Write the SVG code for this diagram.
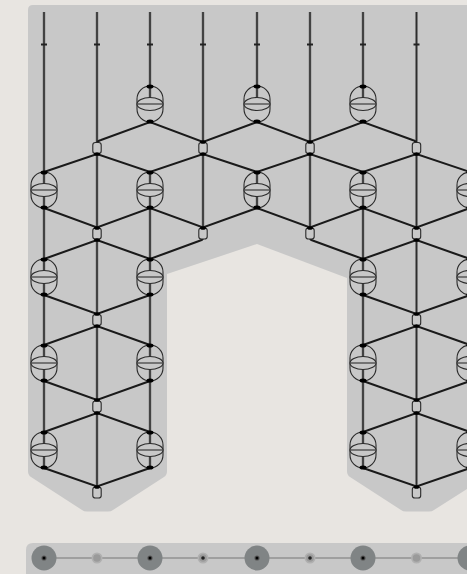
<svg xmlns="http://www.w3.org/2000/svg" width="467" height="574" viewBox="0 0 467 574">
<style>
.v{stroke:#222;stroke-width:.8;fill:none}
.vb{stroke:#5a5a5a;stroke-width:2.4;fill:none}
.e{stroke:#1a1a1a;stroke-width:2.100;fill:none;stroke-linecap:round}
.g{fill:none;stroke:#2a2a2a;stroke-width:1.100}
.f{fill:#c8c8c8;stroke:#2a2a2a;stroke-width:1.100}
.s{fill:#c8c8c8;stroke:#2a2a2a;stroke-width:1.100}
.d{fill:#000}
.t{stroke:#222;stroke-width:2}
.b{fill:#808485}
.m{fill:#9a9a9a}
.h{fill:#b0b0b0}
</style>
<defs>
<g id="gate"><rect class="g" x="-13" y="-18" width="26" height="36" rx="13" ry="13"/><ellipse class="f" rx="13" ry="6.500"/><path d="M-13 0H13" stroke="#444" stroke-width="1.300"/><ellipse class="d" cy="-17.500" rx="3.500" ry="2"/><ellipse class="d" cy="17.500" rx="3.500" ry="2"/></g>
<g id="small"><rect class="s" x="-4.200" y="-5.500" width="8.400" height="11" rx="2.600"/></g>
<ellipse id="dot" class="d" rx="3" ry="1.800"/>
<g id="big"><circle class="b" r="12.500"/><circle r="2.600" fill="#555"/><circle class="d" r="1.500"/></g>
</defs>
<rect width="467" height="574" fill="#e8e5e1"/>
<path id="backdrop" d="M33 5H467V489L434 510Q432 511.500 429 511.500H406Q403 511.500 401 510L350 477Q347 475 347 471V278L257 244L167 274V471Q167 475 164 477L113 510Q111 511.500 108 511.500H87Q84 511.500 82 510L31 477Q28 475 28 471V10Q28 5 33 5Z" fill="#c8c8c8"/>
<path id="strip" d="M467 543H33Q26 543 26 550V574H467Z" fill="#c8c8c8"/>
<g id="connectors">
<path class="vb" d="M44 12V468M97 12V486M150 12V98M150 172V468M203 12V227M257 12V98M257 172V208M310 12V227M363 12V98M363 172V468M416.500 12V486M470 12V468"/>
<path class="v" d="M44 12V468M97 12V486M150 12V98M150 172V468M203 12V227M257 12V98M257 172V208M310 12V227M363 12V98M363 172V468M416.500 12V486M470 12V468"/>
<path class="t" d="M41 44.500H47M94 44.500H100M147 44.500H153M200 44.500H206M254 44.500H260M307 44.500H313M360 44.500H366M413.500 44.500H419.500M467 44.500H473"/>
<path class="e" d="M97 144Q97 141 101 140L150 122L203 142L257 122L310 142L363 122L412.500 140Q416.500 141 416.500 144M44 172L97 154L150 172L203 154L257 172L310 154L363 172L416.500 154L470 172M44 208L97 227.500L150 208L203 227.500L257 208L310 227.500L363 208L416.500 227.500L470 208M44 259L97 240L150 259L199 241Q203 240 203 238M310 238Q310 240 314 241L363 259L416.500 240L470 259M44 295L97 314L150 295M363 295L416.500 314L470 295M44 345L97 326L150 345M363 345L416.500 326L470 345M44 381L97 400L150 381M363 381L416.500 400L470 381M44 432L97 413L150 432M363 432L416.500 413L470 432M44 468L97 486.500L150 468M363 468L416.500 486.500L470 468"/>
</g>
<g id="gates">
<use id="g150-104" href="#gate" x="150" y="104"/><use id="g257-104" href="#gate" x="257" y="104"/><use id="g363-104" href="#gate" x="363" y="104"/>
<use id="g44-190" href="#gate" x="44" y="190"/><use id="g150-190" href="#gate" x="150" y="190"/><use id="g257-190" href="#gate" x="257" y="190"/><use id="g363-190" href="#gate" x="363" y="190"/><use id="g470-190" href="#gate" x="470" y="190"/>
<use id="g44-277" href="#gate" x="44" y="277"/><use id="g150-277" href="#gate" x="150" y="277"/><use id="g363-277" href="#gate" x="363" y="277"/><use id="g470-277" href="#gate" x="470" y="277"/>
<use id="g44-363" href="#gate" x="44" y="363"/><use id="g150-363" href="#gate" x="150" y="363"/><use id="g363-363" href="#gate" x="363" y="363"/><use id="g470-363" href="#gate" x="470" y="363"/>
<use id="g44-450" href="#gate" x="44" y="450"/><use id="g150-450" href="#gate" x="150" y="450"/><use id="g363-450" href="#gate" x="363" y="450"/><use id="g470-450" href="#gate" x="470" y="450"/>
</g>
<g id="smalls">
<use id="s97-147" href="#small" x="97" y="148"/><use id="s203-147" href="#small" x="203" y="148"/><use id="s310-147" href="#small" x="310" y="148"/><use id="s416-147" href="#small" x="416.500" y="148"/>
<use id="s97-233" href="#small" x="97" y="233.500"/><use id="s203-233" href="#small" x="203" y="233.500"/><use id="s310-233" href="#small" x="310" y="233.500"/><use id="s416-233" href="#small" x="416.500" y="233.500"/>
<use id="s97-320" href="#small" x="97" y="320"/><use id="s416-320" href="#small" x="416.500" y="320"/>
<use id="s97-406" href="#small" x="97" y="406.500"/><use id="s416-406" href="#small" x="416.500" y="406.500"/>
<use id="s97-492" href="#small" x="97" y="492.500"/><use id="s416-492" href="#small" x="416.500" y="492.500"/>
</g>
<g id="dots">
<use href="#dot" x="97" y="154"/><use href="#dot" x="203" y="154"/><use href="#dot" x="310" y="154"/><use href="#dot" x="416.500" y="154"/>
<use href="#dot" x="203" y="142"/><use href="#dot" x="310" y="142"/>
<use href="#dot" x="97" y="228"/><use href="#dot" x="203" y="228"/><use href="#dot" x="310" y="228"/><use href="#dot" x="416.500" y="228"/>
<use href="#dot" x="97" y="240"/><use href="#dot" x="416.500" y="240"/>
<use href="#dot" x="97" y="314"/><use href="#dot" x="416.500" y="314"/><use href="#dot" x="97" y="326"/><use href="#dot" x="416.500" y="326"/>
<use href="#dot" x="97" y="400"/><use href="#dot" x="416.500" y="400"/><use href="#dot" x="97" y="413"/><use href="#dot" x="416.500" y="413"/>
<use href="#dot" x="97" y="487"/><use href="#dot" x="416.500" y="487"/>
</g>
<g id="register">
<path d="M44 558H470" stroke="#777" stroke-width="1"/>
<use href="#big" x="44" y="558"/><use href="#big" x="150" y="558"/><use href="#big" x="257" y="558"/><use href="#big" x="363" y="558"/><use href="#big" x="470" y="558"/>
<circle class="h" cx="97" cy="558" r="5.500"/><circle class="m" cx="97" cy="558" r="3.800"/>
<circle class="h" cx="416.500" cy="558" r="5.500"/><circle class="m" cx="416.500" cy="558" r="3.800"/>
<circle class="h" cx="203" cy="558" r="5.500"/><circle class="m" cx="203" cy="558" r="3.800"/><circle cx="203" cy="558" r="1.800" fill="#222"/>
<circle class="h" cx="310" cy="558" r="5.500"/><circle class="m" cx="310" cy="558" r="3.800"/><circle cx="310" cy="558" r="1.800" fill="#222"/>
</g>
</svg>
